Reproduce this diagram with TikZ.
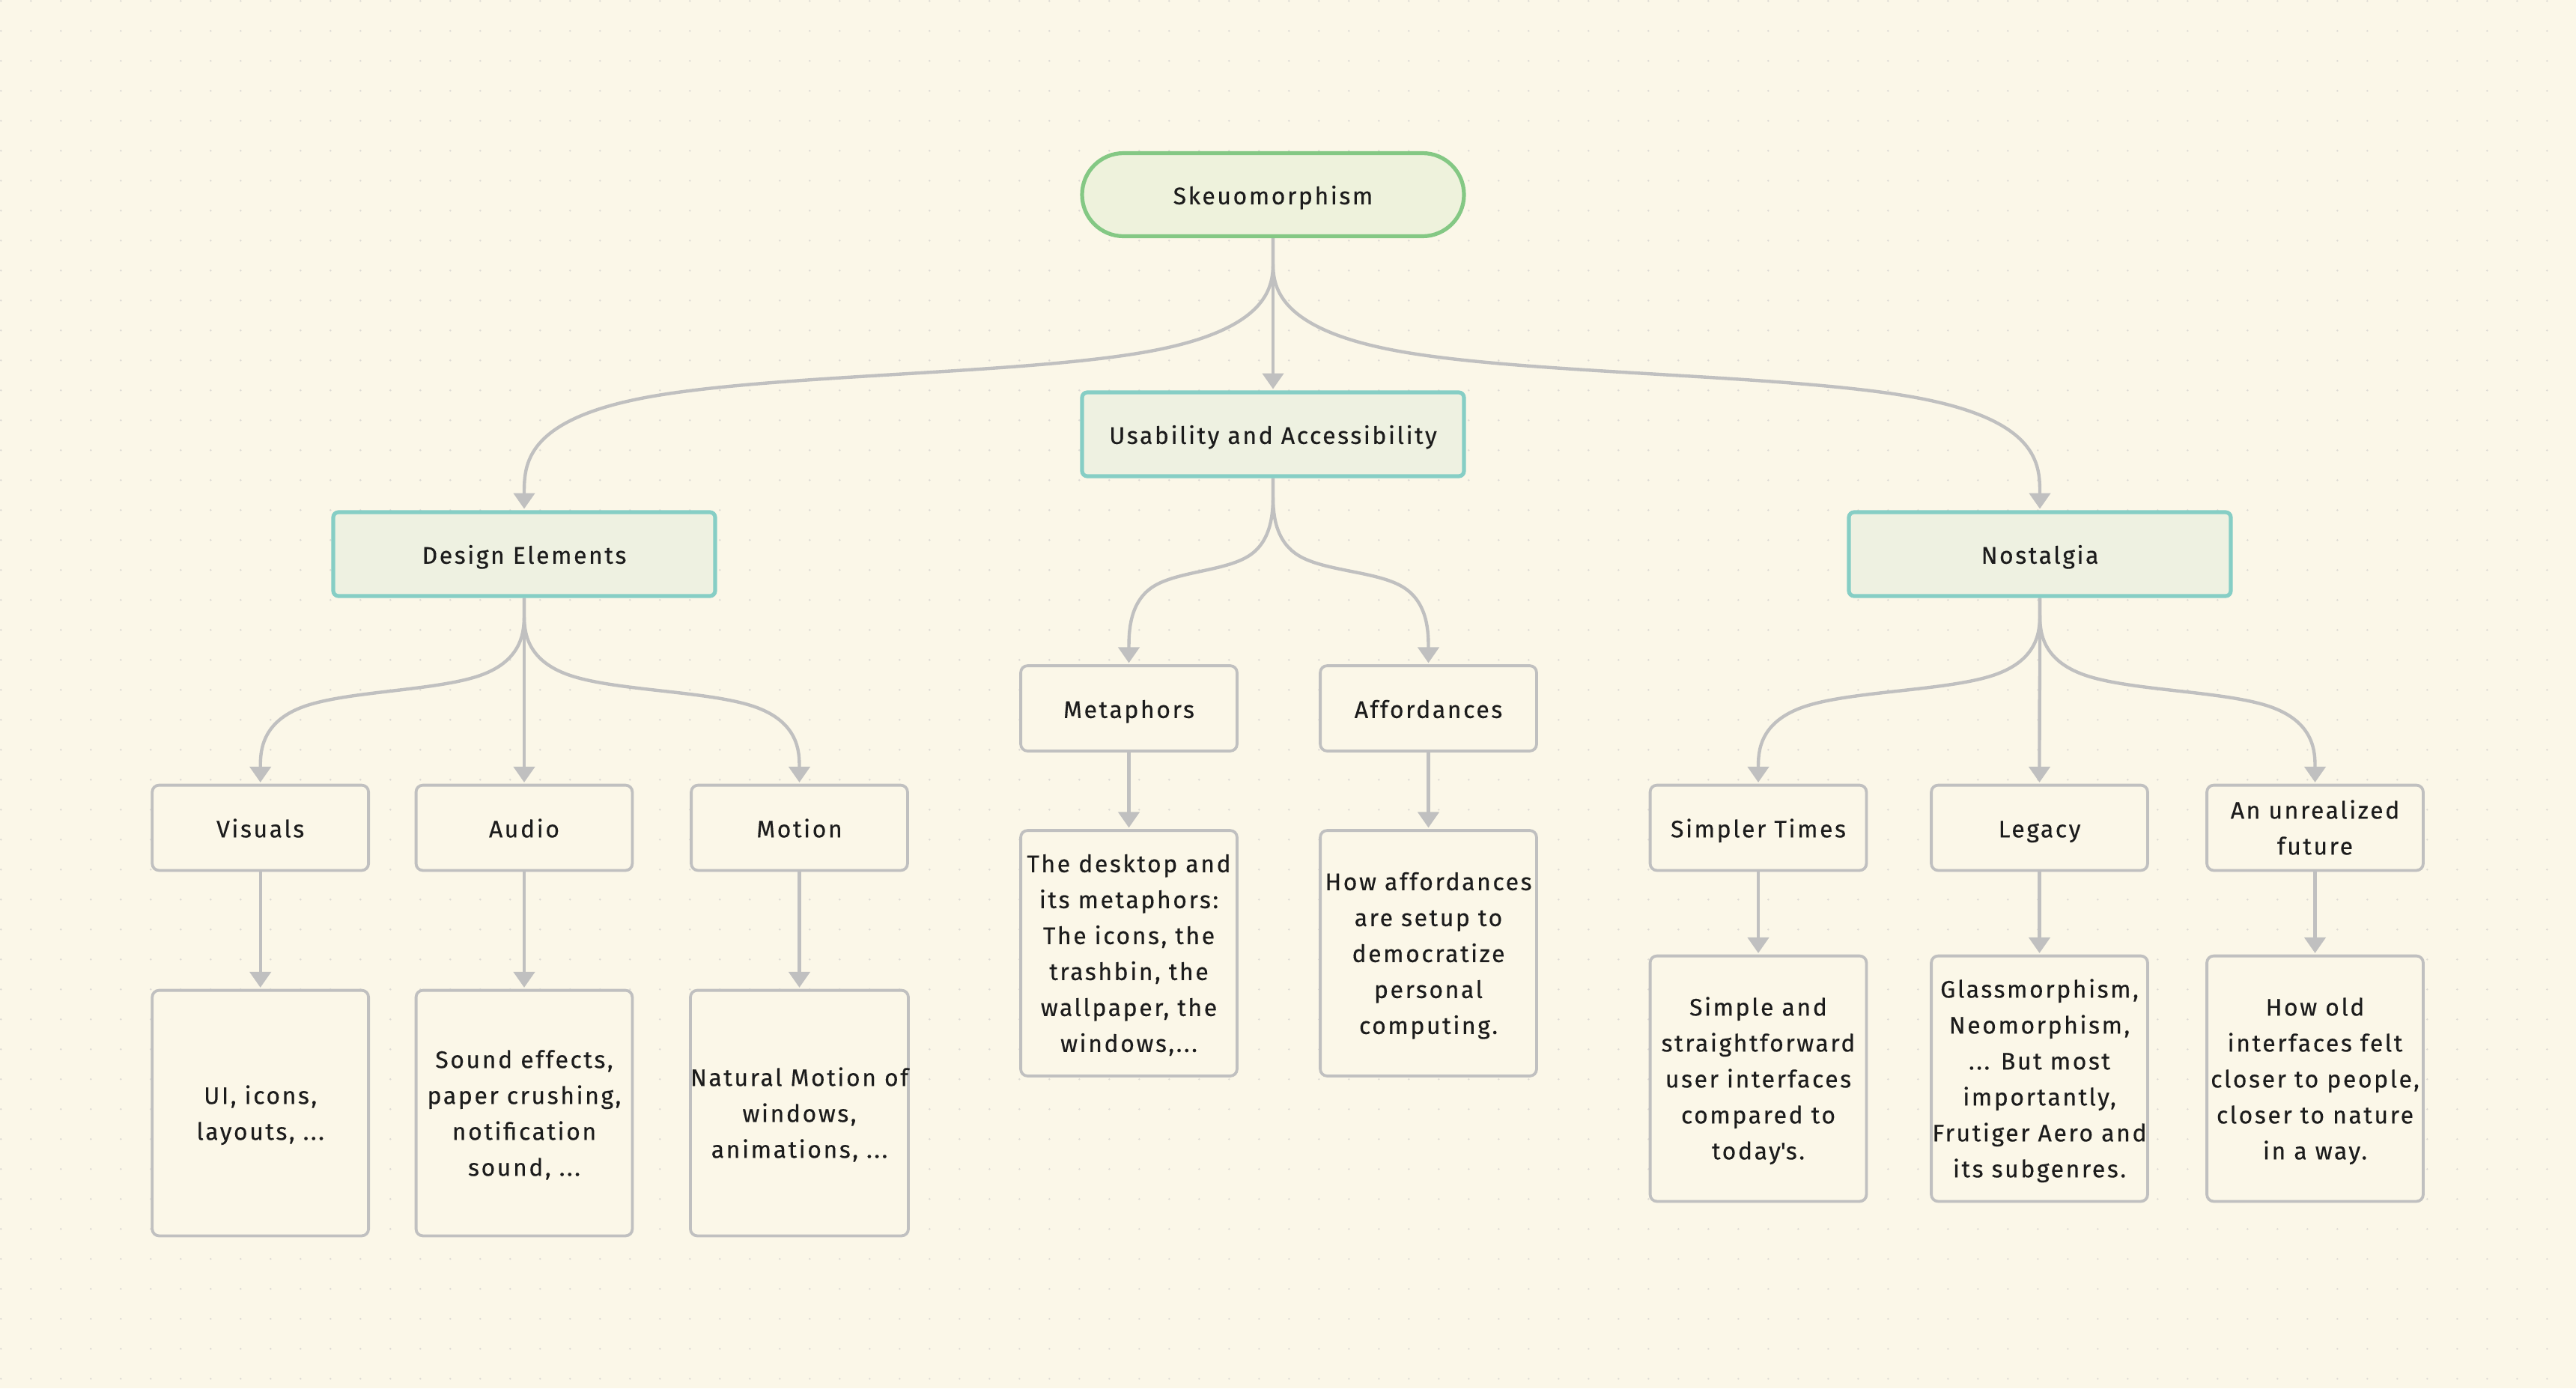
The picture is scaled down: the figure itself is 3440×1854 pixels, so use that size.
\documentclass[tikz,border=0pt]{standalone}
\usepackage{fontspec}
\setmainfont[LetterSpace=8,FakeBold=0.35]{Fira Sans}
\usetikzlibrary{arrows.meta,calc}
\definecolor{bg}{HTML}{FBF7E8}
\definecolor{dotc}{HTML}{DEDBD5}
\definecolor{pillfill}{HTML}{EEF2DC}
\definecolor{pillline}{HTML}{84C884}
\definecolor{tealline}{HTML}{86CEC5}
\definecolor{tealfill}{HTML}{EEF1E1}
\definecolor{grayline}{HTML}{C0C0C0}
\definecolor{ink}{HTML}{1C1C1C}
\pgfdeclarelayer{bglayer}
\pgfdeclarelayer{edgelayer}
\pgfsetlayers{bglayer,edgelayer,main}
\newcommand\botstrut{\rule[-7.2pt]{0pt}{7.2pt}}
\newcommand\topstrut{\rule{0pt}{19pt}}
\tikzset{
  base/.style={font=\fontsize{16}{24}\selectfont, text=ink, align=center, inner sep=0pt,
    execute at begin node={\rule{0pt}{20pt}}, execute at end node={\botstrut}},
  pill/.style={base, draw=pillline, fill=pillfill, line width=2.6pt,
    minimum width=255pt, minimum height=55.5pt, rounded corners=27.7pt},
  topic/.style={base, draw=tealline, fill=tealfill, line width=2.6pt,
    minimum width=255pt, minimum height=56pt, rounded corners=3.5pt},
  item/.style={base, draw=grayline, fill=bg, line width=1.9pt,
    minimum width=144.4pt, minimum height=56.9pt, rounded corners=4.5pt},
  desc/.style={item, minimum height=163.9pt},
  connector/.style={draw=grayline, line width=2.2pt, shorten >=0.9pt,
    -{Triangle[width=14pt,length=10.5pt]}}
}
\newcommand\linkto[2]{%
  \draw[connector] let \p1=(#1.south), \p2=(#2.north) in
  (\x1,\y1) -- (\x1,{(\y1)+((\y2)-(\y1))/12})
  .. controls (\x1,{(\y1)+((\y2)-(\y1))/6}) and (\x1,{(\y1)+((\y2)-(\y1))/3})
  .. ({(5*(\x1)+(\x2))/6},{(7*(\y1)+5*(\y2))/12})
  .. controls ({(2*(\x1)+(\x2))/3},{((\y1)+(\y2))/2}) and ({((\x1)+2*(\x2))/3},{((\y1)+(\y2))/2})
  .. ({((\x1)+5*(\x2))/6},{(5*(\y1)+7*(\y2))/12})
  .. controls (\x2,{((\y1)+2*(\y2))/3}) and (\x2,{((\y1)+5*(\y2))/6}) .. (\x2,\y2);}
\begin{document}
\begin{tikzpicture}[x=0.5pt,y=-0.5pt]
\useasboundingbox (0,0) rectangle (3440,1854);
\begin{pgfonlayer}{bglayer}
  \fill[bg] (0,0) rectangle (3440,1854);
  \foreach \j in {0,...,46} {
    \foreach \i in {0,...,85} { \fill[dotc] (1.3+40*\i,1.3+40*\j) circle (0.7pt); }
  }
\end{pgfonlayer}

\node[pill] (root) at (1700,260) {Skeuomorphism};
\node[topic] (usab) at (1700,580) {Usability and Accessibility};
\node[topic] (design) at (700,740) {Design Elements};
\node[topic] (nost) at (2724,740) {Nostalgia};

\node[item] (meta) at (1507.5,946) {Metaphors};
\node[item] (aff) at (1907.5,946) {Affordances};
\node[desc] (metad) at (1507.5,1273) {\topstrut The desktop and\\its metaphors:\\The icons, the\\trashbin, the\\wallpaper, the\\windows,...\botstrut};
\node[desc] (affd) at (1907.5,1273) {\topstrut How affordances\\are setup to\\democratize\\personal\\computing.\botstrut};

\node[item] (vis) at (347.7,1105.5) {Visuals};
\node[item] (aud) at (700,1105.5) {Audio};
\node[item] (mot) at (1067.5,1105.5) {Motion};
\node[desc] (visd) at (347.7,1486.5) {\topstrut UI, icons,\\layouts, ...\botstrut};
\node[desc] (audd) at (700,1486.5) {\topstrut Sound effects,\\paper crushing,\\notification\\sound, ...\botstrut};
\node[desc] (motd) at (1067.5,1486.5) {\topstrut Natural Motion of\\windows,\\animations, ...\botstrut};

\node[item] (simp) at (2348,1105.5) {Simpler Times};
\node[item] (leg) at (2723.5,1105.5) {Legacy};
\node[item] (fut) at (3091.5,1105.5) {\topstrut An unrealized\\future\botstrut};
\node[desc] (simpd) at (2348,1440.5) {\topstrut Simple and\\straightforward\\user interfaces\\compared to\\today\textquotesingle s.\botstrut};
\node[desc] (legd) at (2723.5,1440.5) {\topstrut Glassmorphism,\\Neomorphism,\\... But most\\importantly,\\Frutiger Aero and\\its subgenres.\botstrut};
\node[desc] (futd) at (3091.5,1440.5) {\topstrut How old\\interfaces felt\\closer to people,\\closer to nature\\in a way.\botstrut};

\begin{pgfonlayer}{edgelayer}
  \linkto{root}{design}
  \linkto{root}{usab}
  \linkto{root}{nost}
  \linkto{usab}{meta}
  \linkto{usab}{aff}
  \linkto{meta}{metad}
  \linkto{aff}{affd}
  \linkto{design}{vis}
  \linkto{design}{aud}
  \linkto{design}{mot}
  \linkto{vis}{visd}
  \linkto{aud}{audd}
  \linkto{mot}{motd}
  \linkto{nost}{simp}
  \linkto{nost}{leg}
  \linkto{nost}{fut}
  \linkto{simp}{simpd}
  \linkto{leg}{legd}
  \linkto{fut}{futd}
\end{pgfonlayer}
\end{tikzpicture}
\end{document}
